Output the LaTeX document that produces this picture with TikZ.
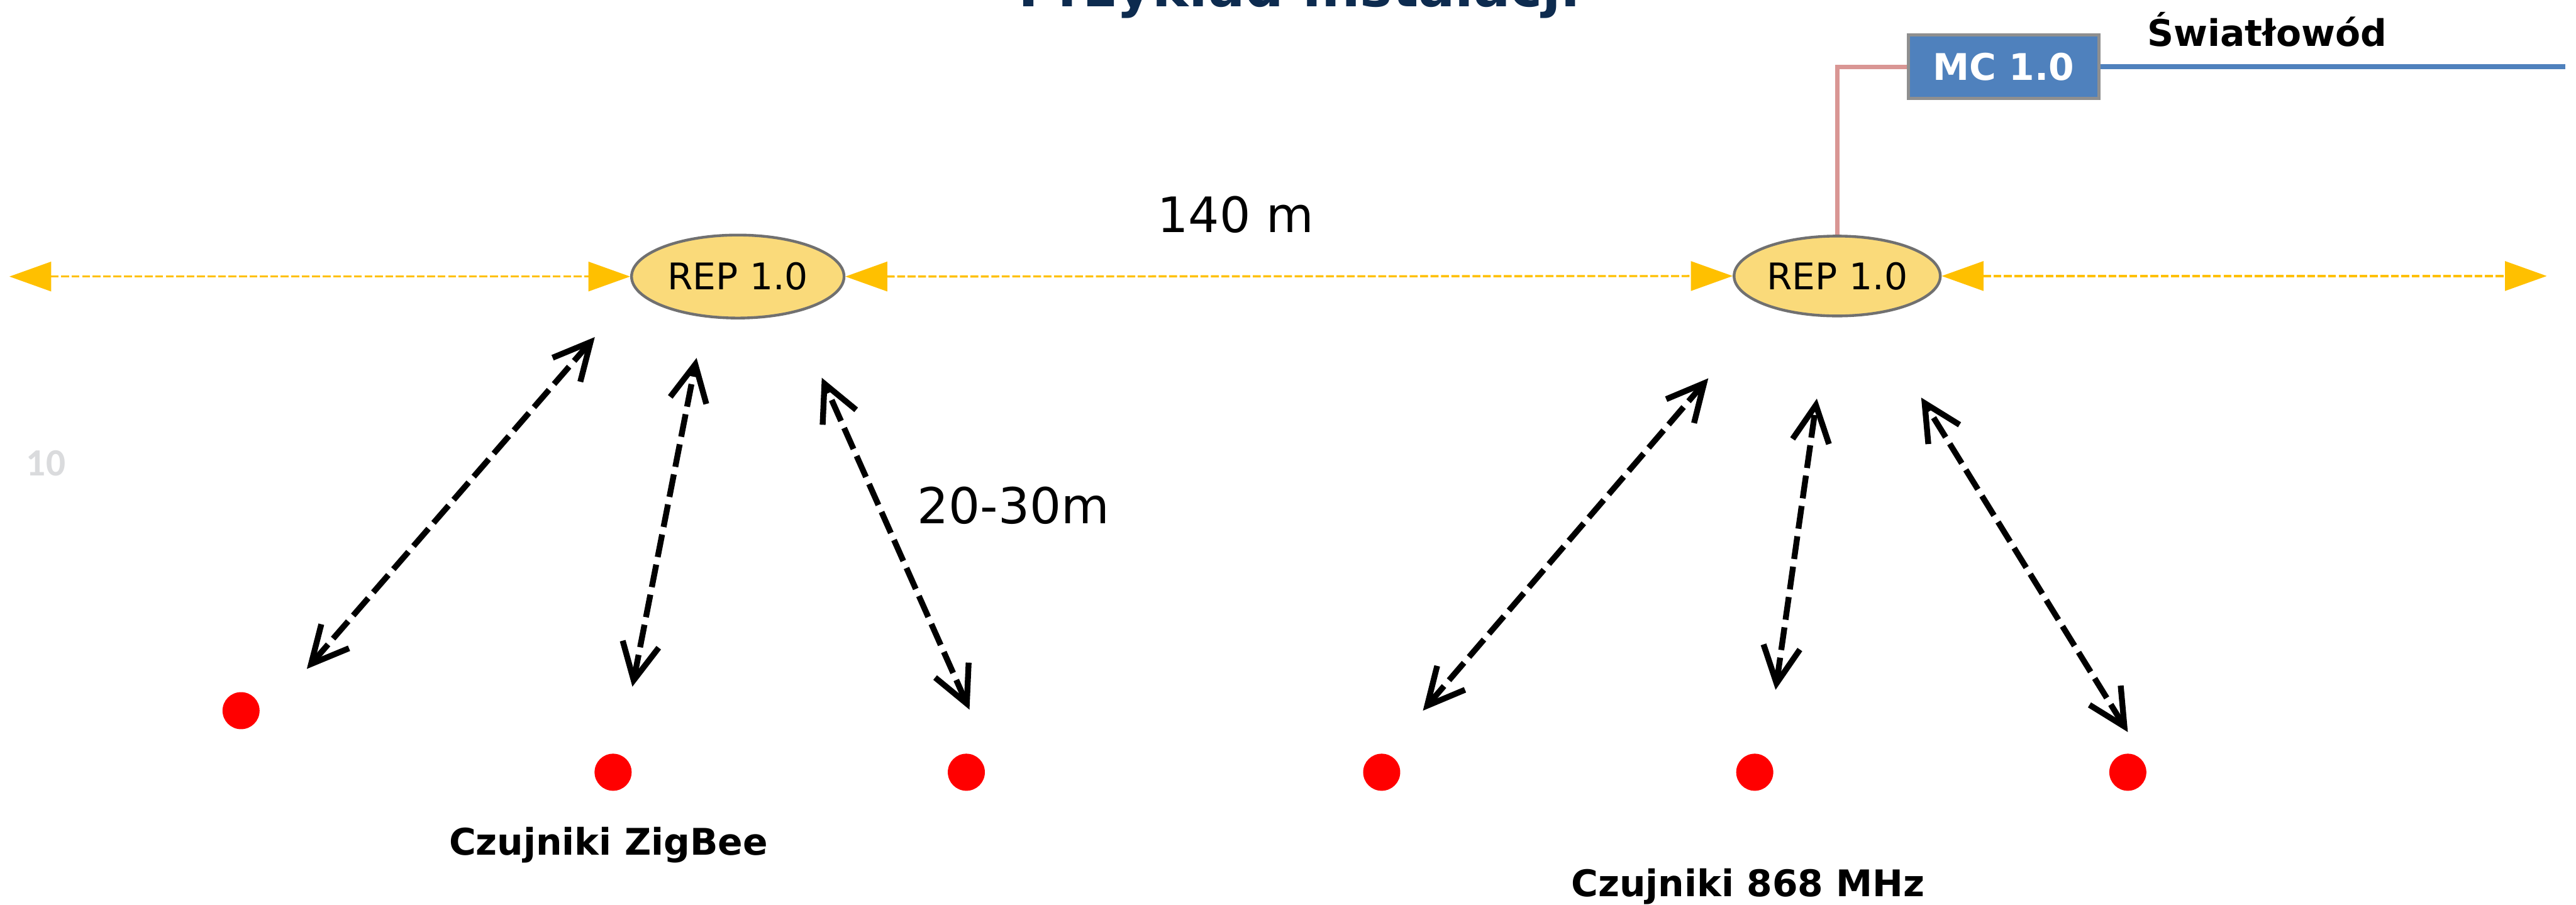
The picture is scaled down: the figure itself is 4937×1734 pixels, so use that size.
\documentclass[tikz,border=0pt]{standalone}
\usepackage{fontspec}
\setmainfont{DejaVu Sans}
\newfontfamily\calfont{Carlito}
\usetikzlibrary{arrows.meta,shapes.geometric}

\definecolor{titlenavy}{HTML}{0D2B4F}
\definecolor{amber}{HTML}{FFC000}
\definecolor{repfill}{HTML}{FADA7A}
\definecolor{repedge}{HTML}{707070}
\definecolor{mcblue}{HTML}{4F81BD}
\definecolor{mcedge}{HTML}{8F8F8F}
\definecolor{linkpink}{HTML}{D99694}
\definecolor{pagegray}{HTML}{DADBDD}

\begin{document}
\begin{tikzpicture}[x=0.01cm, y=-0.01cm,
  rep/.style={ellipse, draw=repedge, line width=1.5pt, fill=repfill,
    inner sep=0pt, font=\fontsize{20}{24}\selectfont},
  mcbox/.style={rectangle, draw=mcedge, line width=1.7pt, fill=mcblue,
    inner sep=0pt, minimum width=3.65cm, minimum height=1.22cm,
    text=white, font=\bfseries\fontsize{20}{24}\selectfont},
  sensor/.style={circle, fill=red, inner sep=0pt, minimum size=0.71cm},
  label/.style={anchor=base, inner sep=0pt},
  boldlabel/.style={label, font=\bfseries\fontsize{20}{24}\selectfont},
  ylink/.style={amber, line width=1.15pt, dash pattern=on 4.3pt off 1.4pt,
    >={Triangle[length=22.8pt,width=16pt]}, <->},
  radiolink/.style={black, line width=3.2pt, dash pattern=on 12.5pt off 4.2pt,
    >={Straight Barb[length=20pt,width=20pt]}, <->},
  pinklink/.style={linkpink, line width=2.3pt},
  fiberlink/.style={mcblue, line width=2.8pt}]

\clip (0,0) rectangle (4937,1734);
\fill[white] (0,0) rectangle (4937,1734);

% heading, mostly above the visible area
\node[label, font=\bfseries\fontsize{29.6}{34}\selectfont, text=titlenavy]
  (title) at (2490,13) {Przykład instalacji};

% repeaters
\node[rep, minimum width=4.07cm, minimum height=1.59cm] (rep1) at (1414,530) {REP 1.0};
\node[rep, minimum width=3.95cm, minimum height=1.53cm] (rep2) at (3521,529) {REP 1.0};

% media converter and fibre
\node[mcbox] (mc) at (3840,128) {MC 1.0};
\coordinate (fiberend) at (4916,128);
\node[boldlabel] (fiber) at (4345,88) {Światłowód};
\draw[pinklink] (rep2.north) |- (mc.west);
\draw[fiberlink] (mc.east) -- (fiberend);

% 140 m backbone
\coordinate (bbleft) at (18,530);
\coordinate (bbright) at (4881,529);
\draw[ylink] (bbleft) -- (rep1.west);
\draw[ylink] (rep1.east) -- (rep2.west);
\draw[ylink] (rep2.east) -- (bbright);
\node[label, font=\fontsize{26.6}{32}\selectfont] (dist) at (2368,445) {140 m};

% sensors
\node[sensor] (s1) at (462,1362) {};
\node[sensor] (s2) at (1175,1480) {};
\node[sensor] (s3) at (1852,1480) {};
\node[sensor] (s4) at (2648,1480) {};
\node[sensor] (s5) at (3363,1480) {};
\node[sensor] (s6) at (4078,1480) {};

% radio links between repeaters and sensors
\coordinate (a1t) at (1140,646);  \coordinate (a1b) at (588,1282);
\coordinate (a2t) at (1335,686);  \coordinate (a2b) at (1212,1316);
\coordinate (a3t) at (1575,724);  \coordinate (a3b) at (1858,1360);
\coordinate (a4t) at (3274,725);  \coordinate (a4b) at (2727,1362);
\coordinate (a5t) at (3482,764);  \coordinate (a5b) at (3403,1322);
\coordinate (a6t) at (3682,762);  \coordinate (a6b) at (4078,1403);
\draw[radiolink] (a1b) -- (a1t);
\draw[radiolink] (a2b) -- (a2t);
\draw[radiolink] (a3b) -- (a3t);
\draw[radiolink] (a4b) -- (a4t);
\draw[radiolink] (a5b) -- (a5t);
\draw[radiolink] (a6b) -- (a6t);

\node[label, font=\fontsize{27}{32}\selectfont] (range) at (1942,1003) {20-30m};

\node[boldlabel] (zigbee) at (1166,1639) {Czujniki ZigBee};
\node[boldlabel] (mhz) at (3350,1718) {Czujniki 868 MHz};

% page number
\node[label, font=\calfont\bfseries\fontsize{21}{25}\selectfont, text=pagegray]
  (pagenum) at (88,912) {10};
\end{tikzpicture}
\end{document}
